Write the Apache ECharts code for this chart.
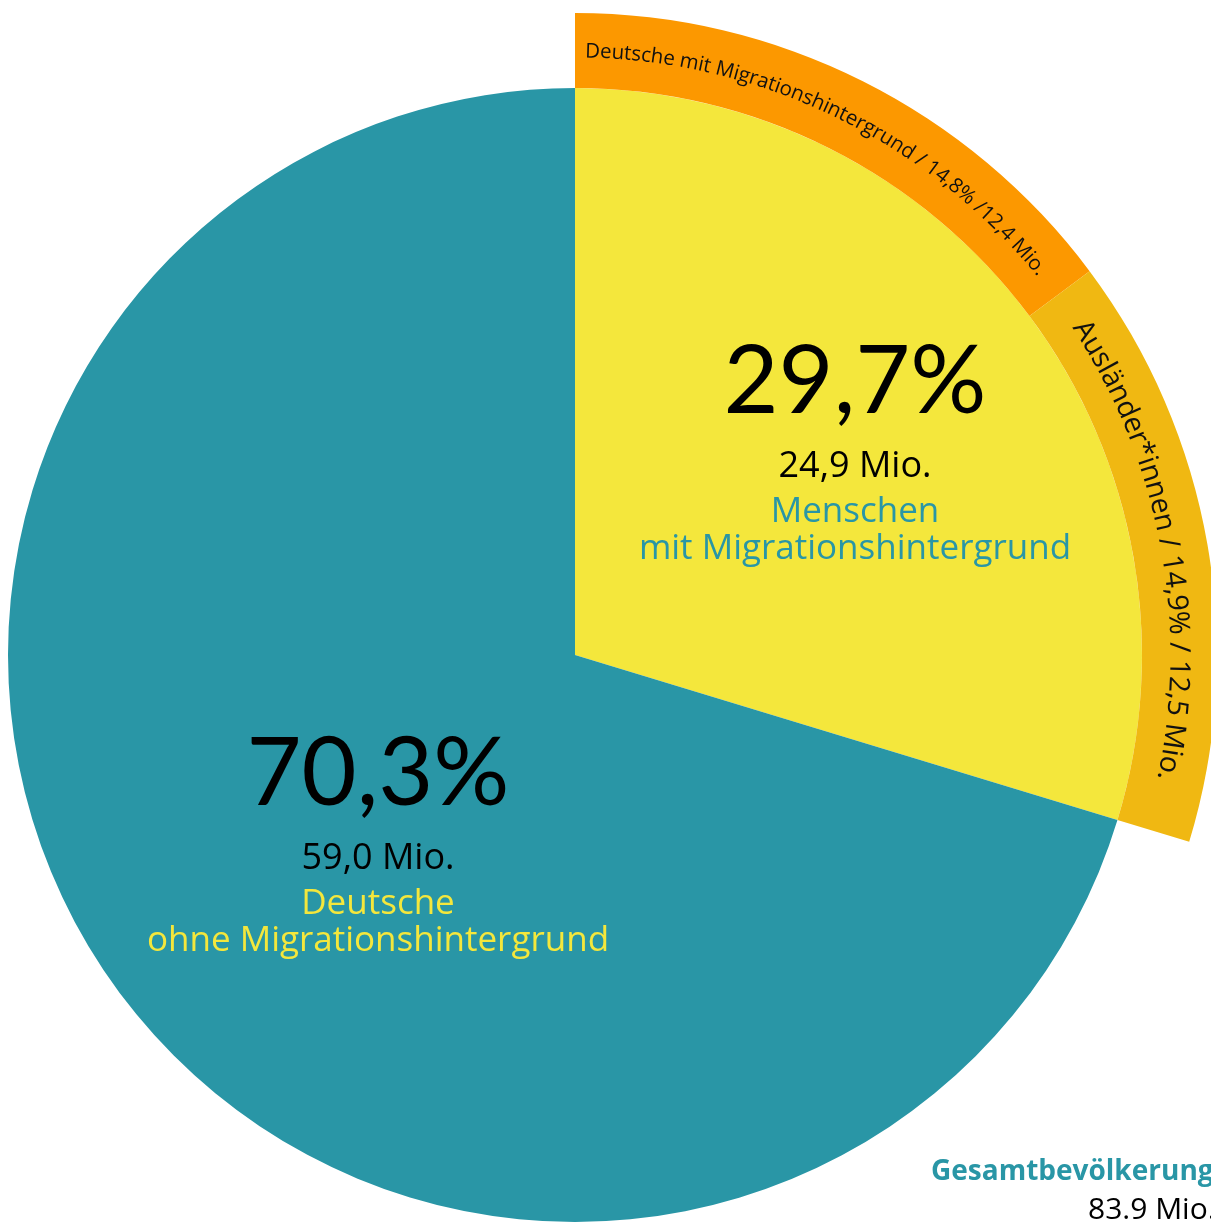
<!DOCTYPE html>
<html>
<head>
<meta charset="utf-8">
<script src="https://cdn.jsdelivr.net/npm/echarts@6/dist/echarts.min.js"></script>
<style>
  html, body { margin: 0; padding: 0; background: #fff; }
  #main { width: 1211px; height: 1222px; }
</style>
</head>
<body>
<div id="main"></div>
<script>
// inner pie: Bevölkerung nach Migrationshintergrund
const innerNames = ['Menschen mit Migrationshintergrund', 'Deutsche ohne Migrationshintergrund']
const innerShares = [29.7, 70.3]
const innerMio = [24.9, 59.0]
// outer ring: Aufteilung der Menschen mit Migrationshintergrund
const outerNames = ['Deutsche mit Migrationshintergrund', 'Ausländer*innen']
const outerShares = [14.8, 14.9]
const outerMio = [12.4, 12.5]
const outerLabels = ['Deutsche mit Migrationshintergrund / 14,8% /12,4 Mio.', 'Ausländer*innen / 14,9% / 12,5 Mio.']
const totalMio = 83.9

const TEAL = '#2996A6'
const YELLOW = '#F4E73C'
const ORANGE = '#FC9800'
const GOLD = '#F0B812'
const FONT = '"Open Sans"'
const BIGFONT = 'Lato'

const cx = 575
const cy = 655
const rInner = 567
const rOuter = 642

const chart = echarts.init(document.getElementById('main'))

const fmt = v => v.toFixed(1).replace('.', ',')

// measure text with a canvas so the curved labels can be laid out char by char
const ctx = document.createElement('canvas').getContext('2d')
function curvedText (text, size, midAngle, radius, color) {
  ctx.font = size + 'px ' + FONT
  const total = ctx.measureText(text).width
  let s = -total / 2
  const out = []
  for (const ch of text) {
    const w = ctx.measureText(ch).width
    const a = midAngle + (s + w / 2) / radius
    out.push({
      type: 'text',
      z: 100,
      x: cx + radius * Math.sin(a),
      y: cy - radius * Math.cos(a),
      rotation: -a,
      silent: true,
      style: {
        text: ch,
        x: 0,
        y: 0,
        align: 'center',
        verticalAlign: 'middle',
        fill: color,
        font: size + 'px ' + FONT
      }
    })
    s += w
  }
  return out
}

const outerTotal = innerShares[0] + innerShares[1]
const graphics = []
let acc = 0
const outerSizes = [20.5, 28.5]
outerShares.forEach((v, i) => {
  const start = acc / outerTotal * Math.PI * 2
  const end = (acc + v) / outerTotal * Math.PI * 2
  const mid = (start + end) / 2 - 0.8 * Math.PI / 180
  graphics.push(...curvedText(outerLabels[i], outerSizes[i], mid, (rInner + rOuter) / 2 - 1, '#111'))
  acc += v
})

function txt (x, y, text, color, font) {
  return { type: 'text', z: 100, x: x, y: y, silent: true, style: { text: text, x: 0, y: 0, align: 'center', verticalAlign: 'middle', fill: color, font: font } }
}

function block (x, y, pct, mio, name1, name2, nameColor) {
  return [
    txt(x, y, fmt(pct) + '%', '#000', '95px ' + BIGFONT),
    txt(x, y + 85, fmt(mio) + ' Mio.', '#000', '36px ' + FONT),
    txt(x, y + 130, name1, nameColor, '35px ' + FONT),
    txt(x, y + 167, name2, nameColor, '35px ' + FONT)
  ]
}

graphics.push(...block(855, 382, innerShares[0], innerMio[0], 'Menschen', 'mit Migrationshintergrund', TEAL))
graphics.push(...block(378, 774, innerShares[1], innerMio[1], 'Deutsche', 'ohne Migrationshintergrund', YELLOW))

graphics.push({ type: 'text', z: 100, left: 931, top: 1158, silent: true, style: { text: 'Gesamtbevölkerung', fill: TEAL, font: 'bold 28px ' + FONT } })
graphics.push({ type: 'text', z: 100, left: 1088, top: 1195, silent: true, style: { text: String(totalMio) + ' Mio.', fill: '#000', font: '30px ' + FONT } })

const option = {
  animation: false,
  series: [
    {
      type: 'pie',
      center: [cx, cy],
      radius: [0, rInner],
      startAngle: 90,
      clockwise: true,
      silent: true,
      label: { show: false },
      labelLine: { show: false },
      itemStyle: { borderWidth: 0 },
      data: innerNames.map((n, i) => ({
        name: n,
        value: innerShares[i],
        itemStyle: { color: i === 0 ? YELLOW : TEAL }
      }))
    },
    {
      type: 'pie',
      center: [cx, cy],
      radius: [rInner, rOuter],
      startAngle: 90,
      clockwise: true,
      silent: true,
      label: { show: false },
      labelLine: { show: false },
      itemStyle: { borderWidth: 0 },
      data: outerNames.map((n, i) => ({
        name: n,
        value: outerShares[i],
        itemStyle: { color: i === 0 ? ORANGE : GOLD }
      })).concat([{ name: 'rest', value: innerShares[1], itemStyle: { color: 'rgba(0,0,0,0)' } }])
    }
  ],
  graphic: graphics
}

chart.setOption(option)
</script>
</body>
</html>
